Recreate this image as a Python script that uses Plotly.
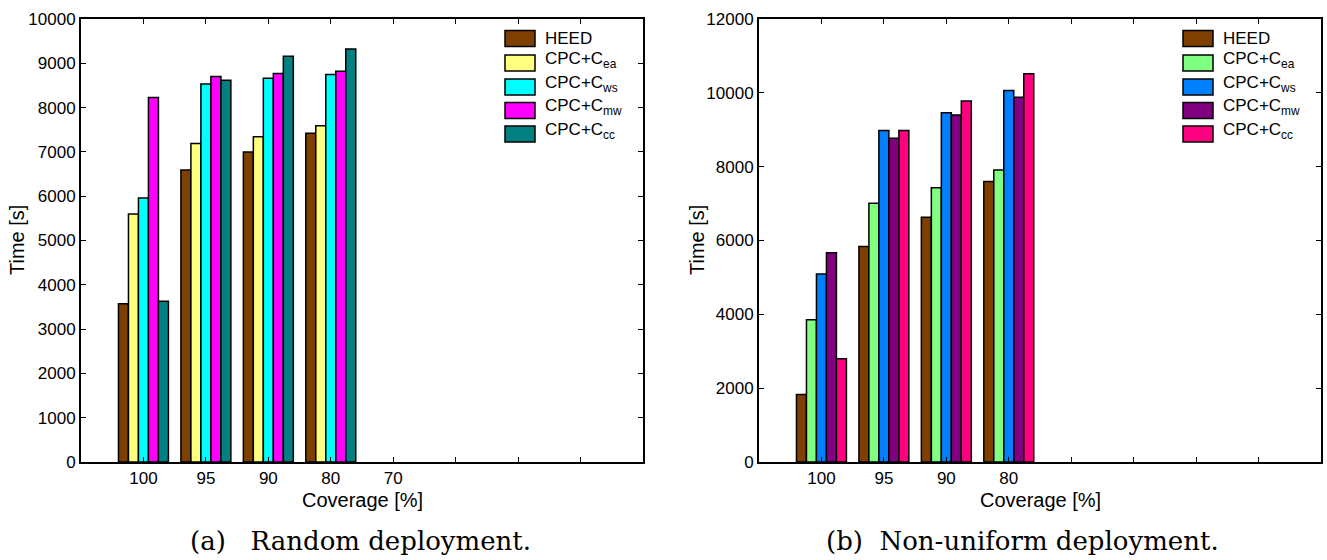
import plotly.graph_objects as go

# ---------------- data ----------------
positions = [1, 2, 3, 4]
tick_positions = [1, 2, 3, 4, 5, 6, 7, 8]
tick_labels_a = ["100", "95", "90", "80", "70", "", "", ""]
tick_labels_b = ["100", "95", "90", "80", "", "", "", ""]

series_names = ["HEED", "CPC+C<sub>ea</sub>", "CPC+C<sub>ws</sub>", "CPC+C<sub>mw</sub>", "CPC+C<sub>cc</sub>"]

a_heed = [3570, 6590, 7000, 7420]
a_cea = [5600, 7190, 7340, 7590]
a_cws = [5960, 8530, 8660, 8750]
a_cmw = [8230, 8700, 8770, 8820]
a_ccc = [3630, 8620, 9160, 9320]

b_heed = [1830, 5840, 6630, 7600]
b_cea = [3850, 7010, 7430, 7910]
b_cws = [5090, 8980, 9460, 10060]
b_cmw = [5670, 8770, 9400, 9880]
b_ccc = [2800, 8980, 9780, 10520]

colors_a = ["#7f3f00", "#ffff80", "#00ffff", "#ff00ff", "#008080"]
colors_b = ["#7f3f00", "#80ff80", "#0080ff", "#800080", "#ff0080"]

W, H = 1327, 560
FONT = "Liberation Sans, Arial, sans-serif"
SERIF = "DejaVu Serif, Liberation Serif, serif"

def px(x):
    return x / W

def py(y):
    return 1 - y / H

fig = go.Figure()

for vals, name, col in zip([a_heed, a_cea, a_cws, a_cmw, a_ccc], series_names, colors_a):
    fig.add_trace(go.Bar(x=positions, y=vals, name=name, marker=dict(color=col, line=dict(color="black", width=1.5)),
                         xaxis="x", yaxis="y", showlegend=False, offsetgroup=name))
for vals, name, col in zip([b_heed, b_cea, b_cws, b_cmw, b_ccc], series_names, colors_b):
    fig.add_trace(go.Bar(x=positions, y=vals, name=name, marker=dict(color=col, line=dict(color="black", width=1.5)),
                         xaxis="x2", yaxis="y2", showlegend=False, offsetgroup=name))

axis_common = dict(showline=True, linecolor="black", linewidth=2, mirror="ticks", ticks="inside",
                   ticklen=5, tickwidth=1, tickcolor="black", showgrid=False, zeroline=False,
                   automargin=False, tickfont=dict(family=FONT, size=17, color="black"))

title_font = dict(family=FONT, size=20, color="black")
ydom = [py(462), py(19)]
fig.update_layout(
    width=W, height=H, margin=dict(l=0, r=0, t=0, b=0),
    paper_bgcolor="white", plot_bgcolor="white",
    barmode="group", bargap=0.2, bargroupgap=0,
    xaxis=dict(domain=[px(81), px(643)], range=[0, 9], tickvals=tick_positions, ticktext=tick_labels_a,
               anchor="y", **axis_common),
    yaxis=dict(domain=ydom, range=[0, 10000], tickvals=list(range(0, 10001, 1000)), tickformat="d", anchor="x",
               **axis_common),
    xaxis2=dict(domain=[px(759), px(1321)], range=[0, 9], tickvals=tick_positions, ticktext=tick_labels_b,
                anchor="y2", **axis_common),
    yaxis2=dict(domain=ydom, range=[0, 12000], tickvals=list(range(0, 12001, 2000)), tickformat="d", anchor="x2",
                **axis_common),
)

# ---------------- axis titles ----------------
for cx in [362, 1040]:
    fig.add_annotation(xref="paper", yref="paper", x=px(cx), y=py(500), xanchor="center", yanchor="middle",
                       showarrow=False, text="Coverage [%]", font=title_font)
for cx in [17, 697]:
    fig.add_annotation(xref="paper", yref="paper", x=px(cx), y=py(240), xanchor="center", yanchor="middle",
                       showarrow=False, text="Time [s]", textangle=-90, font=title_font)

# ---------------- custom legends ----------------
row_tops = [30.5, 55, 79, 102.5, 126]
for x0, colors in [(505, colors_a), (1183, colors_b)]:
    for i, (name, col) in enumerate(zip(series_names, colors)):
        top = row_tops[i]
        fig.add_shape(type="rect", xref="paper", yref="paper",
                      x0=px(x0), x1=px(x0 + 30), y0=py(top + 16), y1=py(top),
                      fillcolor=col, line=dict(color="black", width=1.5))
        fig.add_annotation(xref="paper", yref="paper", x=px(x0 + 38), y=py(top + 8 - (0 if i == 0 else 3)),
                           xanchor="left", yanchor="middle", showarrow=False, text=name,
                           font=dict(family=FONT, size=17, color="black"))

# ---------------- captions ----------------
fig.add_annotation(xref="paper", yref="paper", x=px(360), y=py(541), xanchor="center", yanchor="middle",
                   showarrow=False, text="(a)&nbsp;&nbsp;&nbsp;Random deployment.",
                   font=dict(family=SERIF, size=26, color="black"))
fig.add_annotation(xref="paper", yref="paper", x=px(1022), y=py(541), xanchor="center", yanchor="middle",
                   showarrow=False, text="(b)&nbsp;&nbsp;Non-uniform deployment.",
                   font=dict(family=SERIF, size=26, color="black"))

fig.write_html("out.html")
